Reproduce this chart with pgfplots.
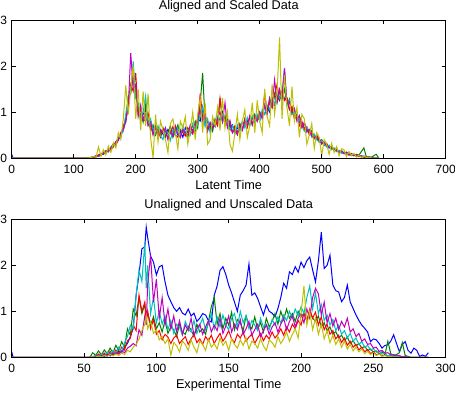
\documentclass[border=0pt]{standalone}
\usepackage{fontspec}
\setmainfont{Liberation Sans}
\usepackage{pgfplots}
\usepackage{pgfplotstable}
\pgfplotsset{compat=1.18}

\definecolor{mblue}{rgb}{0,0,1}
\definecolor{mgreen}{rgb}{0,0.5,0}
\definecolor{mred}{rgb}{1,0,0}
\definecolor{mcyan}{rgb}{0,0.75,0.75}
\definecolor{mmagenta}{rgb}{0.75,0,0.75}
\definecolor{myellow}{rgb}{0.75,0.75,0}

\newcommand{\tfont}{\fontsize{12bp}{14bp}\selectfont}
\newcommand{\lfont}{\fontsize{12.7bp}{15bp}\selectfont}

% aligned (latent time) traces, one column per trial
\pgfplotstableread{
x   b    g    r    c    m    y
0   0.08 0    0    0    0    0
2   0    0    0    0    0    0
124 0    0    0    0    0    0
128 0.01 0.02 0    0.01 0    0.01
132 0.02 0.01 0.03 0.02 0.01 0.03
136 0.05 0.03 0.02 0.04 0.05 0.02
140 0.04 0.07 0.06 0.03 0.04 0.24
144 0.09 0.05 0.10 0.08 0.06 0.04
148 0.08 0.12 0.09 0.13 0.11 0.18
152 0.14 0.16 0.11 0.10 0.15 0.07
156 0.18 0.13 0.20 0.17 0.14 0.26
160 0.17 0.24 0.18 0.22 0.21 0.12
164 0.28 0.30 0.24 0.27 0.31 0.33
168 0.34 0.28 0.36 0.30 0.27 0.22
172 0.38 0.45 0.42 0.44 0.40 0.55
176 0.52 0.48 0.45 0.50 0.56 0.40
180 0.60 0.66 0.70 0.58 0.62 0.85
184 0.88 0.78 0.82 0.95 0.80 1.58
188 1.20 1.35 1.15 1.30 1.10 0.95
192 1.55 1.40 1.60 1.45 2.28 1.50
196 1.70 1.80 1.45 2.10 1.50 2.00
200 1.35 1.50 1.85 1.30 1.60 0.85
204 1.15 1.05 0.95 1.20 0.90 1.50
208 0.85 0.95 1.05 0.80 1.15 0.60
212 0.95 0.78 0.85 1.00 0.82 1.45
216 1.05 1.15 0.80 1.35 0.95 0.70
220 0.75 0.80 0.98 0.72 0.70 1.40
224 0.80 0.62 0.70 0.85 0.78 0.45
228 0.58 0.72 0.52 0.60 0.50 0.00
232 0.66 0.50 0.70 0.52 0.68 0.95
236 0.48 0.62 0.58 0.70 0.45 0.35
240 0.60 0.52 0.45 0.48 0.62 0.80
244 0.52 0.66 0.62 0.40 0.55 0.60
248 0.45 0.48 0.58 0.62 0.66 0.40
252 0.62 0.55 0.42 0.55 0.40 0.12
256 0.55 0.70 0.55 0.38 0.58 0.75
260 0.48 0.45 0.68 0.62 0.48 0.85
264 0.62 0.58 0.50 0.50 0.70 0.55
268 0.50 0.72 0.45 0.66 0.52 0.20
272 0.58 0.48 0.62 0.45 0.45 0.80
276 0.45 0.62 0.55 0.70 0.62 0.65
280 0.66 0.52 0.48 0.55 0.56 0.90
284 0.55 0.45 0.66 0.62 0.48 0.30
288 0.62 0.70 0.58 0.50 0.72 0.60
292 0.70 0.58 0.52 0.75 0.55 1.00
296 0.58 0.80 0.72 0.62 0.70 0.40
300 0.85 0.65 0.78 0.72 0.85 0.95
304 0.80 1.20 1.40 0.95 1.05 1.30
308 1.10 1.85 0.88 1.10 0.80 0.55
312 0.72 0.78 0.95 0.68 0.95 1.20
316 0.80 0.62 0.62 0.85 0.58 0.30
320 0.62 0.70 0.75 0.55 0.78 0.40
324 0.75 0.58 0.65 0.78 0.66 0.90
328 0.68 0.85 0.82 0.70 0.72 0.70
332 0.90 0.72 0.70 0.92 0.85 1.10
336 0.82 1.30 1.30 0.85 1.00 0.60
340 1.00 0.80 0.90 0.95 0.78 1.30
344 0.75 0.92 0.85 0.72 1.20 0.65
348 0.85 0.68 0.70 0.80 0.66 1.00
352 0.66 0.78 0.62 0.62 0.82 0.30
356 0.72 0.55 0.58 0.70 0.55 0.15
360 0.55 0.66 0.70 0.52 0.62 0.55
364 0.66 0.52 0.55 0.72 0.50 0.95
368 0.60 0.75 0.72 0.58 0.72 0.40
372 0.78 0.62 0.62 0.80 0.60 0.80
376 0.68 0.85 0.80 0.65 0.85 1.05
380 0.82 0.70 0.66 0.88 0.70 0.45
384 0.72 0.90 0.88 0.70 0.92 0.70
388 0.88 0.72 0.75 0.92 0.72 1.20
392 0.78 0.95 0.90 0.78 0.90 0.55
396 0.92 0.80 0.82 0.95 0.80 1.25
400 0.82 1.00 0.92 0.80 1.00 0.80
404 1.00 0.88 0.90 1.05 0.85 0.55
408 0.95 1.15 1.40 0.95 1.15 1.50
412 1.10 0.98 1.00 1.15 0.95 0.90
416 1.00 1.30 1.20 1.05 1.30 0.70
420 1.25 1.10 1.10 1.30 1.12 1.60
424 1.15 1.40 1.35 1.18 1.70 0.95
428 1.35 1.20 1.60 1.40 1.22 1.40
432 1.25 1.45 1.28 1.30 1.50 2.62
436 1.45 1.28 1.45 1.42 1.30 0.85
440 1.28 1.50 1.25 1.95 1.95 1.80
444 1.30 1.15 1.30 1.15 1.18 1.10
448 1.05 1.28 1.05 1.25 1.22 0.70
452 1.10 0.95 1.12 0.95 1.00 1.55
456 0.90 1.05 0.85 0.98 1.08 0.80
460 0.95 0.85 0.92 0.90 0.80 1.10
464 0.78 0.92 0.70 0.82 0.92 0.45
468 0.72 0.68 0.80 0.70 0.66 0.95
472 0.66 0.75 0.62 0.58 0.78 0.85
476 0.60 0.62 0.68 0.66 0.56 0.30
480 0.58 0.55 0.50 0.60 0.62 0.50
484 0.48 0.60 0.55 0.45 0.48 0.75
488 0.50 0.44 0.42 0.52 0.42 0.20
492 0.40 0.46 0.48 0.40 0.50 0.55
496 0.42 0.36 0.36 0.34 0.40 0.45
500 0.32 0.40 0.38 0.38 0.30 0.05
504 0.34 0.28 0.27 0.30 0.36 0.40
508 0.26 0.30 0.32 0.24 0.28 0.30
512 0.24 0.22 0.22 0.28 0.22 0.08
516 0.20 0.26 0.24 0.18 0.24 0.32
520 0.19 0.18 0.16 0.22 0.18 0.12
524 0.14 0.20 0.18 0.14 0.16 0.25
528 0.15 0.13 0.12 0.17 0.12 0.05
532 0.11 0.16 0.15 0.10 0.15 0.20
536 0.12 0.10 0.09 0.13 0.10 0.18
540 0.08 0.13 0.12 0.08 0.12 0.03
544 0.09 0.08 0.06 0.10 0.07 0.14
548 0.06 0.10 0.09 0.05 0.08 0.06
552 0.07 0.05 0.05 0.08 0.05 0.10
556 0.04 0.08 0.07 0.04 0.06 0.02
560 0.05 0.06 0.03 0.06 0.04 0.06
564 0.03 0.14 0.04 0.03 0.05 0.01
568 0.04 0.22 0.02 0.04 0.02 0.04
572 0.02 0.02 0.01 0.01 0.01 0.01
576 0.01 0.03 0.00 0.02 0.02 0.02
580 0.02 0.01 0.00 0.00 0.00 0.00
584 0.00 0.05 0.00 0.00 0.00 0.00
588 0.00 0.08 0.00 0.00 0.00 0.00
592 0.00 0.00 0.00 0.00 0.00 0.00
}\datatop

% raw (experimental time) traces
\pgfplotstableread{
x   b    g    r    c    m    y
0   0.12 0    0    0    0    0
1   0    0    0    0    0    0
54  0    0    0    0    0    0
56  0.01 0.10 0.02 0.01 0.00 0.01
58  0.03 0.04 0.00 0.04 0.02 0.00
60  0.00 0.14 0.07 0.02 0.04 0.03
62  0.04 0.05 0.02 0.07 0.01 0.01
64  0.02 0.16 0.09 0.03 0.06 0.04
66  0.06 0.08 0.03 0.11 0.03 0.02
68  0.03 0.20 0.13 0.05 0.08 0.06
70  0.08 0.10 0.05 0.15 0.05 0.03
72  0.06 0.26 0.16 0.08 0.10 0.07
74  0.13 0.15 0.08 0.22 0.07 0.04
76  0.10 0.34 0.22 0.12 0.14 0.09
78  0.22 0.22 0.16 0.32 0.10 0.06
80  0.30 0.62 0.36 0.45 0.20 0.15
82  0.45 0.48 0.42 0.70 0.24 0.12
84  0.63 1.05 0.70 0.62 0.30 0.22
86  1.35 0.90 0.58 1.35 0.25 0.28
88  1.80 1.30 1.35 1.90 0.60 0.40
90  2.36 0.95 1.00 1.65 0.48 0.58
92  2.40 1.15 1.20 2.50 0.90 0.72
93  2.83 0.85 0.75 1.50 0.70 0.90
94  2.60 0.98 1.00 2.00 1.60 0.62
96  2.20 0.70 0.62 0.95 2.22 0.78
98  2.07 0.88 0.82 1.30 1.20 0.52
100 1.79 0.62 0.50 0.75 1.70 0.60
102 1.97 0.75 0.58 1.00 0.85 0.38
104 2.00 0.55 0.38 0.72 1.30 0.45
106 1.64 0.80 0.50 0.90 0.72 0.30
108 1.35 0.52 0.44 0.60 1.05 0.40
110 1.21 0.66 0.30 0.80 0.62 0.05
112 1.08 0.60 0.42 0.52 0.90 0.32
114 1.00 0.45 0.48 0.72 0.55 0.25
116 1.08 0.72 0.30 0.66 0.80 0.12
118 0.96 0.55 0.38 0.48 0.50 0.35
120 0.92 0.50 0.45 0.78 0.70 0.28
122 1.05 0.68 0.28 0.62 0.58 0.15
124 0.90 0.60 0.40 0.55 0.85 0.38
126 0.96 0.45 0.50 0.80 0.48 0.22
128 0.78 0.72 0.32 0.52 0.62 0.10
130 0.85 0.55 0.40 0.70 0.72 0.36
132 0.95 0.62 0.28 0.85 0.50 0.28
134 0.92 0.50 0.45 0.60 0.66 0.15
136 0.80 0.78 0.36 0.72 0.80 0.40
138 0.77 1.10 0.48 0.95 0.55 0.22
140 1.35 1.30 0.30 0.62 0.70 0.30
142 1.55 0.72 0.42 0.88 0.58 0.18
144 1.89 0.95 0.52 0.66 0.85 0.42
146 1.97 0.62 0.35 0.92 0.52 0.26
148 1.80 0.85 0.45 0.70 0.68 0.35
150 1.57 0.70 0.58 0.60 0.90 0.15
152 1.40 0.98 0.40 0.85 0.55 0.40
154 1.20 0.60 0.32 0.95 0.72 0.28
156 1.00 0.82 0.50 0.66 0.60 0.20
158 1.35 0.75 0.42 1.00 0.82 0.38
160 1.45 0.58 0.55 0.75 0.50 0.26
162 1.57 0.90 0.35 0.90 0.62 0.42
164 2.03 0.70 0.44 0.62 0.78 0.18
166 1.35 0.62 0.50 0.80 0.48 0.35
168 1.40 0.88 0.30 0.70 0.60 0.30
170 1.28 0.60 0.42 0.58 0.72 0.20
172 1.10 0.76 0.52 0.85 0.45 0.40
174 0.92 0.55 0.36 0.66 0.58 0.25
176 1.14 0.85 0.48 0.72 0.70 0.15
178 1.00 0.66 0.40 0.60 0.50 0.38
180 0.96 0.78 0.55 0.82 0.66 0.32
182 0.88 0.95 0.42 0.70 0.75 0.22
184 1.06 0.72 0.50 0.88 0.55 0.45
186 1.30 1.00 0.62 0.75 0.72 0.30
188 1.61 0.82 0.48 0.92 0.85 0.40
190 1.50 1.05 0.66 0.80 0.60 0.55
192 1.86 0.85 0.55 1.00 0.78 0.35
194 1.80 0.95 0.72 0.85 0.90 0.50
196 1.97 0.78 0.62 1.05 0.66 0.62
198 1.85 1.00 0.80 0.90 0.85 0.42
200 2.07 0.88 0.70 1.10 0.95 0.95
202 1.95 0.96 0.95 0.95 0.75 1.55
204 2.10 0.80 0.78 1.30 1.05 0.70
206 2.18 1.00 1.05 1.55 0.85 1.00
208 1.90 0.85 0.85 1.05 1.30 0.60
210 1.64 0.78 0.98 1.40 1.50 0.85
212 2.10 0.90 0.70 0.95 1.38 0.50
214 2.72 0.66 0.88 1.15 0.92 0.72
216 1.93 0.75 0.60 0.80 1.20 0.40
218 2.00 0.58 0.72 0.92 0.75 0.58
220 2.22 0.66 0.50 0.70 0.95 0.32
222 1.57 0.50 0.58 0.82 0.68 0.48
224 1.45 0.56 0.40 0.58 0.85 0.28
226 1.42 0.42 0.48 0.70 0.60 0.40
228 1.21 0.48 0.32 0.50 0.78 0.22
230 1.30 0.36 0.42 0.58 0.66 0.35
232 1.57 0.44 0.26 0.42 0.85 0.18
234 1.20 0.30 0.35 0.52 0.55 0.28
236 1.06 0.36 0.22 0.35 0.62 0.14
238 0.92 0.25 0.28 0.42 0.45 0.22
240 0.80 0.30 0.16 0.28 0.52 0.12
242 0.70 0.20 0.22 0.34 0.35 0.18
244 0.63 0.24 0.12 0.22 0.40 0.08
246 0.55 0.15 0.17 0.26 0.28 0.13
248 0.34 0.18 0.08 0.16 0.30 0.06
250 0.40 0.11 0.12 0.19 0.20 0.10
252 0.38 0.14 0.05 0.11 0.22 0.04
254 0.30 0.08 0.08 0.13 0.13 0.07
256 0.20 0.12 0.03 0.07 0.15 0.02
258 0.26 0.06 0.05 0.09 0.09 0.04
260 0.27 0.35 0.01 0.03 0.10 0.01
262 0.35 0.08 0.03 0.05 0.05 0.02
264 0.49 0.04 0.00 0.02 0.06 0.00
266 0.30 0.06 0.01 0.03 0.03 0.01
268 0.12 0.10 0.00 0.01 0.04 0.00
270 0.28 0.32 0.00 0.02 0.01 0.00
272 0.34 0.04 0.00 0.00 0.02 0.00
274 0.15 0.02 0.00 0.00 0.00 0.00
276 0.09 0.00 0.00 0.00 0.00 0.00
278 0.20 0.00 0.00 0.00 0.00 0.00
280 0.15 0.00 0.00 0.00 0.00 0.00
282 0.02 0.00 0.00 0.00 0.00 0.00
284 0.05 0.00 0.00 0.00 0.00 0.00
286 0.02 0.00 0.00 0.00 0.00 0.00
288 0.10 0.00 0.00 0.00 0.00 0.00
}\databot

\pgfplotsset{
  mstyle/.style={
    scale only axis,
    width=434bp, height=138bp,
    anchor=south west,
    ymin=0, ymax=3, ytick={0,1,2,3},
    axis on top,
    tick align=inside,
    major tick length=4bp,
    axis line style={line width=0.8bp},
    every tick/.style={black, line width=0.8bp},
    /pgf/number format/assume math mode=true,
    tick label style={font=\tfont, inner sep=0pt},
    xticklabel shift=6.5bp,
    yticklabel shift=4.5bp,
    every axis title shift=0pt,
    title style={font=\lfont, inner sep=0pt, at={(0.5,1)}, anchor=base, yshift=10.5bp},
    xlabel style={font=\lfont, inner sep=0pt, at={(0.5,0)}, anchor=base, yshift=-31.5bp},
    every axis plot/.append style={no marks, line width=1bp, sharp plot},
  },
}

\begin{document}
\begin{tikzpicture}[x=1bp, y=1bp]
\useasboundingbox (0,0) rectangle (455,393);

\begin{axis}[mstyle, at={(11.7bp,235bp)},
  xmin=0, xmax=700, xtick={0,100,...,700},
  title={Aligned and Scaled Data}, xlabel={Latent Time}]
  \addplot[mblue] table[x=x, y=b] {\datatop};
  \addplot[mgreen] table[x=x, y=g] {\datatop};
  \addplot[mred] table[x=x, y=r] {\datatop};
  \addplot[mcyan] table[x=x, y=c] {\datatop};
  \addplot[mmagenta] table[x=x, y=m] {\datatop};
  \addplot[myellow] table[x=x, y=y] {\datatop};
\end{axis}

\begin{axis}[mstyle, at={(11.7bp,35.7bp)},
  xmin=0, xmax=300, xtick={0,50,...,300},
  title={Unaligned and Unscaled Data}, xlabel={Experimental Time}]
  \addplot[mblue] table[x=x, y=b] {\databot};
  \addplot[mgreen] table[x=x, y=g] {\databot};
  \addplot[mred] table[x=x, y=r] {\databot};
  \addplot[mcyan] table[x=x, y=c] {\databot};
  \addplot[mmagenta] table[x=x, y=m] {\databot};
  \addplot[myellow] table[x=x, y=y] {\databot};
\end{axis}
\end{tikzpicture}
\end{document}
